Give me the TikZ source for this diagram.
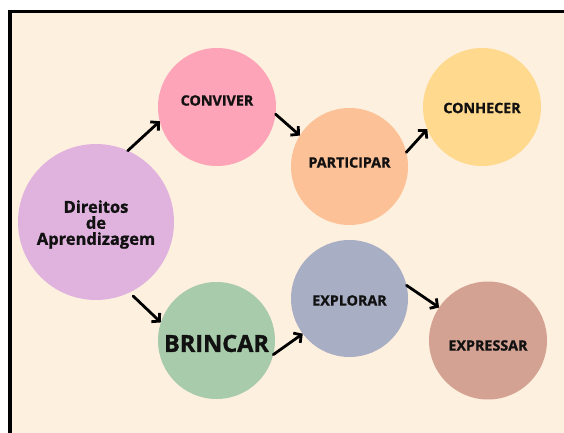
\documentclass[tikz,border=0pt]{standalone}
\usepackage{fontspec}
\setmainfont{Open Sans}[BoldFeatures={FakeBold=1.2}]
\usetikzlibrary{arrows.meta}
\definecolor{cream}{HTML}{FEF0DE}
\definecolor{cDir}{HTML}{E0B3DF}
\definecolor{cConv}{HTML}{FDA4B8}
\definecolor{cPart}{HTML}{FCC196}
\definecolor{cConh}{HTML}{FFD98E}
\definecolor{cBrin}{HTML}{A8CBAB}
\definecolor{cExpl}{HTML}{A8AEC4}
\definecolor{cExpr}{HTML}{D4A293}
\definecolor{ink}{HTML}{111111}
\tikzset{
  bub/.style={circle, draw=none, inner sep=0pt, outer sep=0pt, minimum size=#1},
  lab/.style={font=\bfseries\fontsize{14.3}{16}\selectfont, text=ink, inner sep=0pt, align=center},
  conn/.style={line width=2.8pt, draw=black, line cap=round, -{Straight Barb[length=5.5pt,width=12pt]}}
}
\begin{document}
\begin{tikzpicture}[x=1pt,y=-1pt]
\useasboundingbox (0,0) rectangle (564,433);
\fill[white] (0,0) rectangle (564,433);
\fill[cream] (10,11.5) rectangle (564,433);
\draw[line width=3.5pt] (10,433) -- (10,11.5) -- (564,11.5);

\node[bub=156pt, fill=cDir, label={[lab, font=\bfseries\fontsize{16.5}{16}\selectfont, yshift=-2.5pt]center:Direitos\\de\\Aprendizagem}] (dir) at (96,222) {};
\node[bub=118pt, fill=cConv, label={[lab, yshift=6.5pt]center:CONVIVER}] (conv) at (217,107) {};
\node[bub=117pt, fill=cPart, label={[lab, yshift=4pt]center:PARTICIPAR}] (part) at (349.5,166.5) {};
\node[bub=118pt, fill=cConh, label={[lab, yshift=-1pt]center:CONHECER}] (conh) at (482,107) {};
\node[bub=117pt, fill=cBrin, label={[lab, font=\bfseries\fontsize{23.5}{26}\selectfont, yshift=-3pt]center:BRINCAR}] (brin) at (216.5,340.5) {};
\node[bub=117pt, fill=cExpl, label={[lab, yshift=-2pt]center:EXPLORAR}] (expl) at (349.5,298.5) {};
\node[bub=118pt, fill=cExpr, label={[lab, yshift=-5pt]center:EXPRESSAR}] (expr) at (488,340.5) {};

\draw[conn] (dir.66) -- (conv.194);
\draw[conn] (conv.-7) -- (part.148);
\draw[conn] (part.14) -- (conh.202);
\draw[conn] ([shift={(3,4)}]dir.-64) -- (brin.162);
\draw[conn] (brin.-14) -- (expl.217);
\draw[conn] (expl.13) -- (expr.146);
\end{tikzpicture}
\end{document}
